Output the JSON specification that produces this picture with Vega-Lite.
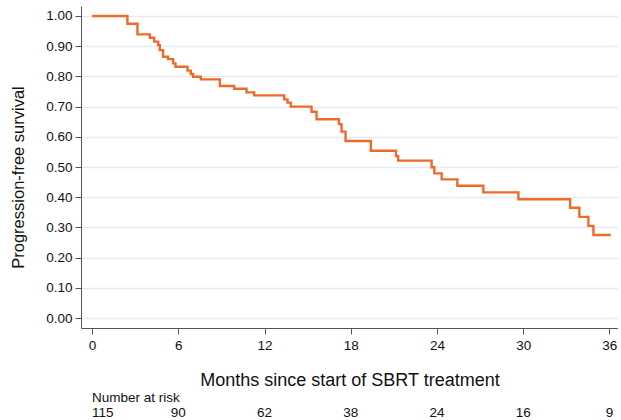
{
  "$schema": "https://vega.github.io/schema/vega-lite/v6.json",
  "padding": {"left": 10, "top": 6, "right": 0, "bottom": 0},
  "spacing": 0,
  "background": "white",
  "config": {"view": {"stroke": null}, "font": "Liberation Sans"},
  "vconcat": [
    {
      "width": 537,
      "height": 322,
      "data": {"values": [
        {"month": 0, "surv": 1.0},
        {"month": 2.46, "surv": 0.974},
        {"month": 3.16, "surv": 0.939},
        {"month": 4.02, "surv": 0.928},
        {"month": 4.32, "surv": 0.915},
        {"month": 4.6, "surv": 0.904},
        {"month": 4.71, "surv": 0.887},
        {"month": 4.94, "surv": 0.865},
        {"month": 5.29, "surv": 0.857},
        {"month": 5.64, "surv": 0.843},
        {"month": 5.8, "surv": 0.832},
        {"month": 6.64, "surv": 0.819},
        {"month": 6.87, "surv": 0.808},
        {"month": 7.03, "surv": 0.799},
        {"month": 7.57, "surv": 0.79},
        {"month": 8.89, "surv": 0.768},
        {"month": 9.89, "surv": 0.759},
        {"month": 10.75, "surv": 0.747},
        {"month": 11.28, "surv": 0.737},
        {"month": 13.37, "surv": 0.724},
        {"month": 13.6, "surv": 0.713},
        {"month": 13.83, "surv": 0.7},
        {"month": 15.27, "surv": 0.683},
        {"month": 15.62, "surv": 0.658},
        {"month": 17.18, "surv": 0.642},
        {"month": 17.36, "surv": 0.617},
        {"month": 17.64, "surv": 0.586},
        {"month": 19.4, "surv": 0.554},
        {"month": 21.15, "surv": 0.536},
        {"month": 21.3, "surv": 0.521},
        {"month": 23.63, "surv": 0.499},
        {"month": 23.82, "surv": 0.479},
        {"month": 24.33, "surv": 0.459},
        {"month": 25.42, "surv": 0.438},
        {"month": 27.23, "surv": 0.416},
        {"month": 29.67, "surv": 0.393},
        {"month": 33.27, "surv": 0.365},
        {"month": 33.91, "surv": 0.335},
        {"month": 34.54, "surv": 0.305},
        {"month": 34.89, "surv": 0.275},
        {"month": 36.1, "surv": 0.275}
      ]},
      "mark": {"type": "line", "interpolate": "step-after", "color": "#ee6a2a", "strokeWidth": 2.4},
      "encoding": {
        "x": {
          "field": "month", "type": "quantitative",
          "scale": {"domain": [-0.77, 36.6], "nice": false, "zero": false},
          "axis": {
            "values": [0, 6, 12, 18, 24, 30, 36],
            "title": "Months since start of SBRT treatment",
            "grid": false, "domainColor": "#555555", "tickColor": "#555555", "tickSize": 6,
            "labelFontSize": 13.5, "labelColor": "#111111", "labelPadding": 4, "labelFlush": false,
            "titleFontSize": 18, "titleFontWeight": "normal", "titleColor": "#111111", "titlePadding": 20
          }
        },
        "y": {
          "field": "surv", "type": "quantitative",
          "scale": {"domain": [-0.033, 1.033], "nice": false, "zero": false},
          "axis": {
            "values": [0, 0.1, 0.2, 0.3, 0.4, 0.5, 0.6, 0.7, 0.8, 0.9, 1.0],
            "format": ".2f",
            "title": "Progression-free survival",
            "grid": true, "gridColor": "#e5ecf0", "gridWidth": 1.3,
            "domainColor": "#555555", "tickColor": "#555555", "tickSize": 6,
            "labelFontSize": 13.5, "labelColor": "#111111", "labelPadding": 3,
            "titleFontSize": 16.5, "titleFontWeight": "normal", "titleColor": "#111111",
            "titlePadding": 19, "titleY": 171
          }
        }
      }
    },
    {
      "width": 537,
      "height": 30,
      "data": {"values": [
        {"month": 0, "row": "header", "label": "Number at risk"},
        {"month": 0, "row": "numbers", "label": "115"},
        {"month": 6, "row": "numbers", "label": "90"},
        {"month": 12, "row": "numbers", "label": "62"},
        {"month": 18, "row": "numbers", "label": "38"},
        {"month": 24, "row": "numbers", "label": "24"},
        {"month": 30, "row": "numbers", "label": "16"},
        {"month": 36, "row": "numbers", "label": "9"}
      ]},
      "encoding": {
        "x": {"field": "month", "type": "quantitative", "scale": {"domain": [-0.77, 36.6], "nice": false, "zero": false}, "axis": null},
        "y": {"field": "row", "type": "nominal", "scale": {"domain": ["header", "numbers"], "padding": 0.5}, "axis": null},
        "text": {"field": "label"}
      },
      "layer": [
        {
          "transform": [{"filter": "datum.month == 0"}],
          "mark": {"type": "text", "align": "left", "baseline": "alphabetic", "fontSize": 13.5, "color": "#111111"}
        },
        {
          "transform": [{"filter": "datum.month > 0"}],
          "mark": {"type": "text", "align": "center", "baseline": "alphabetic", "fontSize": 13.5, "color": "#111111"}
        }
      ]
    }
  ]
}
